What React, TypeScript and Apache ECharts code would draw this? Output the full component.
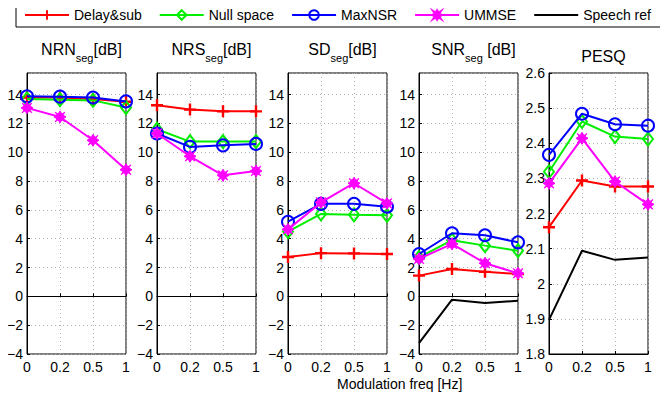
import React, { useEffect, useRef } from "react";
import * as echarts from "echarts";

const freqs = ["0", "0.2", "0.5", "1"];
const seriesNames = ["Delay&sub", "Null space", "MaxNSR", "UMMSE", "Speech ref"];
const panelTitles = ["NRN", "NRS", "SD", "SNR", "PESQ"];

// NRN_seg [dB]
const nrnDelay = [13.8, 13.8, 13.7, 13.5];
const nrnNull = [13.7, 13.65, 13.6, 13.1];
const nrnMax = [13.88, 13.86, 13.8, 13.53];
const nrnUmmse = [13.08, 12.45, 10.83, 8.79];

// NRS_seg [dB]
const nrsDelay = [13.26, 12.96, 12.84, 12.84];
const nrsNull = [11.6, 10.74, 10.74, 10.74];
const nrsMax = [11.3, 10.37, 10.48, 10.58];
const nrsUmmse = [11.3, 9.72, 8.4, 8.7];

// SD_seg [dB]
const sdDelay = [2.73, 3.0, 2.98, 2.94];
const sdNull = [4.5, 5.72, 5.66, 5.62];
const sdMax = [5.18, 6.42, 6.42, 6.22];
const sdUmmse = [4.65, 6.52, 7.85, 6.45];

// SNR_seg [dB]
const snrDelay = [1.44, 1.9, 1.7, 1.55];
const snrNull = [2.7, 3.9, 3.52, 3.17];
const snrMax = [2.94, 4.38, 4.24, 3.75];
const snrUmmse = [2.6, 3.64, 2.3, 1.6];
const snrSpeech = [-3.24, -0.23, -0.46, -0.3];

// PESQ
const pesqDelay = [2.161, 2.294, 2.277, 2.277];
const pesqNull = [2.319, 2.462, 2.419, 2.412];
const pesqMax = [2.367, 2.484, 2.454, 2.45];
const pesqUmmse = [2.286, 2.414, 2.291, 2.226];
const pesqSpeech = [1.897, 2.094, 2.068, 2.075];

const panelData: (number[] | null)[][] = [
  [nrnDelay, nrnNull, nrnMax, nrnUmmse, null],
  [nrsDelay, nrsNull, nrsMax, nrsUmmse, null],
  [sdDelay, sdNull, sdMax, sdUmmse, null],
  [snrDelay, snrNull, snrMax, snrUmmse, snrSpeech],
  [pesqDelay, pesqNull, pesqMax, pesqUmmse, pesqSpeech],
];

const colors = ["#ff0000", "#00ee00", "#0000ff", "#ff00ff", "#000000"];
const plusPath = "path://M4,0H6V4H10V6H6V10H4V6H0V4H4Z";
const starPath =
  "path://M5,0L6.6,2.6L9,1L7.4,3.4L10,5L7.4,6.6L9,9L6.6,7.4L5,10L3.4,7.4L1,9L2.6,6.6L0,5L2.6,3.4L1,1L3.4,2.6Z";
const symbols = [plusPath, "diamond", "circle", starPath, "none"];
const symbolSizes: (number | number[])[] = [12, [10, 13], 12, 12, 0];

const lefts = [27, 157, 288, 419, 549];
const gridTop = 73;
const gridW = 99;
const gridH = 281;
const FONT = "Liberation Sans, Arial, sans-serif";

export default function App() {
  const ref = useRef<HTMLDivElement>(null);
  useEffect(() => {
    if (!ref.current) return;
    const chart = echarts.init(ref.current, null, { renderer: "svg" });

    const grids = lefts.map((l) => ({
      left: l,
      top: gridTop,
      width: gridW,
      height: gridH,
      show: true,
      borderColor: "#000",
      borderWidth: 1,
      backgroundColor: "#fff",
    }));

    const xAxes = lefts.map((_, i) => ({
      type: "category",
      gridIndex: i,
      data: freqs,
      boundaryGap: false,
      axisLine: { show: true, lineStyle: { color: "#000", width: 1 } },
      axisTick: { show: true, inside: true, length: 3, lineStyle: { color: "#000" } },
      axisLabel: { color: "#000", fontSize: 14, fontFamily: FONT, margin: 6 },
      splitLine: { show: true, lineStyle: { color: "#b0b0b0", type: [1, 3], width: 1 } },
    }));

    const yAxes = lefts.map((_, i) => {
      const isPesq = i === 4;
      return {
        type: "value",
        gridIndex: i,
        min: isPesq ? 1.8 : -4,
        max: isPesq ? 2.6 : 15.5,
        interval: isPesq ? 0.1 : 2,
        axisLine: { show: true, lineStyle: { color: "#000", width: 1 } },
        axisTick: { show: true, inside: true, length: 3, lineStyle: { color: "#000" } },
        axisLabel: {
          color: "#000",
          fontSize: 14,
          fontFamily: FONT,
          margin: 4,
          showMaxLabel: isPesq,
          formatter: (v: number) =>
            isPesq ? (Math.round(v * 10) / 10).toString() : String(v).replace("-", "\u2212"),
        },
        splitLine: { show: true, lineStyle: { color: "#b0b0b0", type: [1, 3], width: 1 } },
      };
    });

    const series: any[] = [];
    panelData.forEach((arrs, p) => {
      arrs.forEach((arr, s) => {
        if (!arr) return;
        const hollow = s === 1 || s === 2;
        series.push({
          name: seriesNames[s],
          type: "line",
          xAxisIndex: p,
          yAxisIndex: p,
          data: arr,
          symbol: symbols[s],
          symbolSize: symbolSizes[s],
          showSymbol: s !== 4,
          z: s === 4 ? 1 : 2 + s,
          lineStyle: { color: colors[s], width: 2 },
          itemStyle: {
            color: hollow ? "rgba(255,255,255,0)" : colors[s],
            borderColor: colors[s],
            borderWidth: hollow ? 2 : s === 3 ? 1 : 0,
          },
          emphasis: { disabled: true },
        });
      });
    });

    const titles = panelTitles.map((t, i) => ({
      text: i === 4 ? "PESQ" : t + "{sub|seg}" + (i === 3 ? " " : "") + "[dB]",
      left: lefts[i] + gridW / 2,
      textAlign: "center",
      top: i === 4 ? 43 : 31,
      textStyle: {
        fontSize: 16,
        fontWeight: "normal",
        color: "#000",
        fontFamily: FONT,
        rich: {
          sub: { fontSize: 11, fontFamily: FONT, color: "#000", padding: [16, 0, 0, 0] },
        },
      },
    }));

    const legendData = seriesNames.map((n, i) =>
      i === 4 ? { name: n, itemStyle: { opacity: 0 } } : { name: n }
    );

    chart.setOption({
      animation: false,
      backgroundColor: "#fff",
      title: titles,
      legend: {
        data: legendData,
        left: 16,
        top: 3,
        width: 660,
        padding: [5, 12, 5, 8],
        itemGap: 17,
        itemWidth: 44,
        itemHeight: 12,
        borderColor: "#000",
        borderWidth: 1,
        textStyle: { fontSize: 14, fontFamily: FONT, color: "#000" },
        selectedMode: false,
      },
      grid: grids,
      xAxis: xAxes,
      yAxis: yAxes,
      series,
      graphic: [
        {
          type: "text",
          left: 337,
          top: 377,
          style: {
            text: "Modulation freq [Hz]",
            fontSize: 14,
            fontFamily: FONT,
            fill: "#000",
            textAlign: "center",
          },
        },
      ],
    });
    return () => chart.dispose();
  }, []);
  return <div ref={ref} style={{ width: 668, height: 401, margin: -8 }} />;
}
